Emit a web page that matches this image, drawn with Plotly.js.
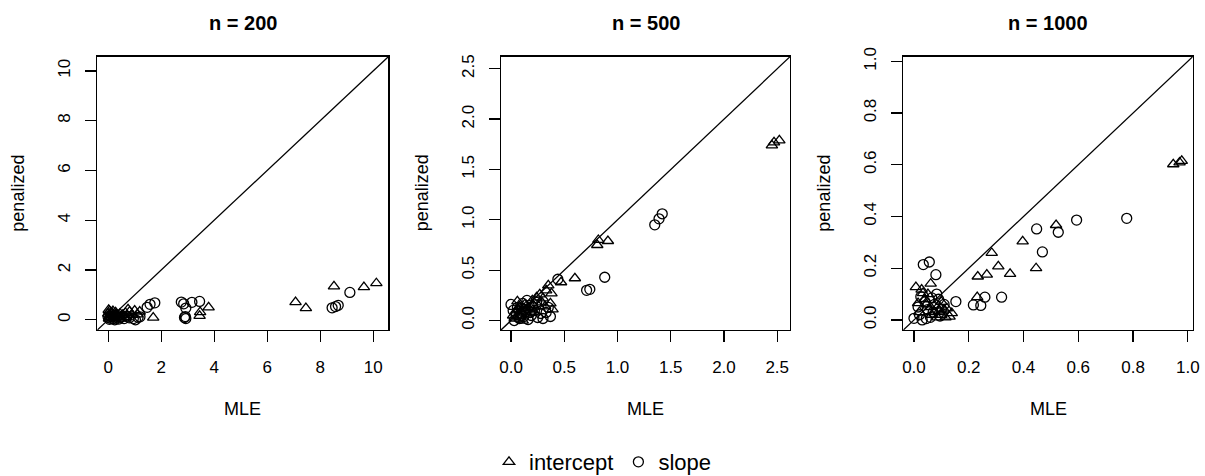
<!DOCTYPE html>
<html>
<head>
<meta charset="utf-8">
<script src="https://cdn.plot.ly/plotly-3.0.1.min.js"></script>
<style>html,body{margin:0;padding:0;background:#fff;}#chart{width:1205px;height:476px;}</style>
</head>
<body>
<div id="chart"></div>
<script>
// ---- data ----
const panelTitles = ["n = 200", "n = 500", "n = 1000"];
const seriesNames = ["intercept", "slope"];

// n = 200
const n200_intercept_mle = [10.12, 9.65, 8.52, 7.07, 7.46, 3.79, 3.47, 3.45, 1.70, 1.19, 1.00, 0.81, 0.02, 0.05, 0.10, 0.00, 0.08, 0.15, 0.20, 0.12, 0.30, 0.25, 0.05, 0.35, 0.40, 0.45, 0.55, 0.60, 0.65, 0.18, 0.03, 0.28, 0.70, 0.50, 0.90, 0.75, 1.10];
const n200_intercept_pen = [1.47, 1.31, 1.34, 0.71, 0.47, 0.50, 0.31, 0.16, 0.09, 0.33, 0.37, 0.33, 0.40, 0.35, 0.30, 0.25, 0.20, 0.28, 0.15, 0.10, 0.22, 0.05, 0.12, 0.18, 0.10, 0.25, 0.20, 0.12, 0.28, 0.35, 0.05, 0.30, 0.10, 0.05, 0.20, 0.42, 0.22];
const n200_slope_mle = [9.12, 8.45, 8.58, 8.68, 3.45, 3.16, 2.76, 2.85, 2.93, 2.91, 2.93, 2.88, 1.47, 1.58, 1.76, 1.03, 1.13, 0.95, 0.00, 0.05, 0.10, 0.20, 0.30, 0.15, 0.40, 0.50, 0.60, 0.70, 0.80, 0.25, 0.35, 0.08, 0.45, 1.20];
const n200_slope_pen = [1.10, 0.48, 0.53, 0.58, 0.74, 0.70, 0.71, 0.64, 0.47, 0.13, 0.05, 0.09, 0.50, 0.62, 0.68, 0.00, 0.10, 0.05, 0.10, 0.02, 0.15, 0.05, 0.10, 0.20, 0.03, 0.12, 0.05, 0.15, 0.08, 0.00, 0.18, 0.06, 0.08, 0.12];

// n = 500
const n500_intercept_mle = [2.52, 2.47, 2.45, 0.91, 0.82, 0.81, 0.60, 0.47, 0.35, 0.33, 0.38, 0.37, 0.39, 0.24, 0.27, 0.29, 0.21, 0.06, 0.02, 0.05, 0.08, 0.10, 0.12, 0.15, 0.18, 0.20, 0.04, 0.09, 0.13, 0.16, 0.22, 0.26, 0.30, 0.32, 0.11, 0.07];
const n500_intercept_pen = [1.79, 1.77, 1.74, 0.79, 0.80, 0.75, 0.42, 0.38, 0.35, 0.30, 0.27, 0.17, 0.11, 0.23, 0.26, 0.18, 0.15, 0.19, 0.05, 0.10, 0.14, 0.08, 0.12, 0.06, 0.10, 0.20, 0.02, 0.04, 0.16, 0.13, 0.08, 0.14, 0.22, 0.14, 0.00, 0.11];
const n500_slope_mle = [1.35, 1.39, 1.42, 0.88, 0.71, 0.74, 0.44, 0.30, 0.37, 0.15, 0.00, 0.02, 0.05, 0.08, 0.10, 0.12, 0.14, 0.17, 0.19, 0.22, 0.25, 0.28, 0.33, 0.35, 0.03, 0.06, 0.09, 0.11, 0.16, 0.20, 0.24, 0.13, 0.07, 0.18];
const n500_slope_pen = [0.95, 1.01, 1.06, 0.43, 0.30, 0.31, 0.41, 0.02, 0.04, 0.20, 0.16, 0.10, 0.06, 0.02, 0.12, 0.04, 0.09, 0.15, 0.05, 0.10, 0.03, 0.07, 0.08, 0.13, 0.00, 0.13, 0.07, 0.17, 0.01, 0.14, 0.18, 0.11, 0.03, 0.08];

// n = 1000
const n1000_intercept_mle = [0.978, 0.970, 0.947, 0.519, 0.397, 0.446, 0.284, 0.308, 0.351, 0.266, 0.233, 0.231, 0.061, 0.007, 0.028, 0.033, 0.051, 0.015, 0.040, 0.060, 0.075, 0.090, 0.100, 0.110, 0.120, 0.130, 0.115, 0.085, 0.065, 0.020, 0.045, 0.100, 0.093, 0.138];
const n1000_intercept_pen = [0.615, 0.609, 0.602, 0.367, 0.304, 0.200, 0.259, 0.207, 0.178, 0.175, 0.168, 0.088, 0.140, 0.127, 0.117, 0.104, 0.100, 0.065, 0.080, 0.050, 0.030, 0.055, 0.020, 0.040, 0.045, 0.013, 0.010, 0.010, 0.020, 0.030, 0.060, 0.070, 0.036, 0.026];
const n1000_slope_mle = [0.777, 0.594, 0.448, 0.527, 0.469, 0.320, 0.259, 0.217, 0.244, 0.153, 0.034, 0.056, 0.080, 0.000, 0.083, 0.020, 0.030, 0.045, 0.060, 0.070, 0.075, 0.090, 0.100, 0.050, 0.040, 0.065, 0.110, 0.015, 0.025, 0.095];
const n1000_slope_pen = [0.393, 0.386, 0.352, 0.339, 0.263, 0.088, 0.088, 0.058, 0.056, 0.071, 0.214, 0.224, 0.175, 0.006, 0.100, 0.020, 0.000, 0.005, 0.010, 0.030, 0.060, 0.080, 0.040, 0.040, 0.070, 0.085, 0.060, 0.050, 0.090, 0.015];

// axis ticks
const ticks200 = [0, 2, 4, 6, 8, 10];
const ticks500 = [0.0, 0.5, 1.0, 1.5, 2.0, 2.5];
const ticks1000 = [0.0, 0.2, 0.4, 0.6, 0.8, 1.0];

// ---- layout configuration ----
const ranges = [[-0.41, 10.57], [-0.094, 2.62], [-0.039, 1.018]];
const W = 1205, H = 476;
const boxes = [[97.3, 388.3], [501, 790], [903.3, 1192.7]];
const boxTop = 56.7, boxBottom = 330;
const FONT = "Liberation Sans, Arial, Helvetica, sans-serif";

const panels = [
  {ix: n200_intercept_mle, iy: n200_intercept_pen, sx: n200_slope_mle, sy: n200_slope_pen, ticks: ticks200, fmt: v => String(v)},
  {ix: n500_intercept_mle, iy: n500_intercept_pen, sx: n500_slope_mle, sy: n500_slope_pen, ticks: ticks500, fmt: v => v.toFixed(1)},
  {ix: n1000_intercept_mle, iy: n1000_intercept_pen, sx: n1000_slope_mle, sy: n1000_slope_pen, ticks: ticks1000, fmt: v => v.toFixed(1)}
];

const traces = [];
const layout = {
  width: W, height: H,
  margin: {l: 0, r: 0, t: 0, b: 0, autoexpand: false},
  paper_bgcolor: "#fff", plot_bgcolor: "#fff",
  font: {family: FONT, color: "#000", size: 17},
  showlegend: true,
  legend: {orientation: "h", x: 0.5, xanchor: "center", y: 1 - 462 / H, yanchor: "middle",
           font: {size: 22, family: FONT, color: "#000"}, itemwidth: 30, tracegroupgap: 0, traceorder: "normal"},
  annotations: [],
};

const markerLine = {color: "#000", width: 1.3};
panels.forEach((p, i) => {
  const k = i === 0 ? "" : String(i + 1);
  const xa = "x" + k, ya = "y" + k;
  const r = ranges[i];
  traces.push({type: "scatter", mode: "lines", x: [r[0], r[1]], y: [r[0], r[1]], xaxis: xa, yaxis: ya,
               line: {color: "#000", width: 1.3}, showlegend: false, hoverinfo: "skip"});
  traces.push({type: "scatter", mode: "markers", x: p.ix, y: p.iy, xaxis: xa, yaxis: ya,
               name: seriesNames[0], legendgroup: "int", showlegend: i === 0,
               marker: {symbol: "triangle-up-open", size: 10, color: "#000", line: markerLine}, cliponaxis: false});
  traces.push({type: "scatter", mode: "markers", x: p.sx, y: p.sy, xaxis: xa, yaxis: ya,
               name: seriesNames[1], legendgroup: "slp", showlegend: i === 0,
               marker: {symbol: "circle-open", size: 10, color: "#000", line: markerLine}, cliponaxis: false});

  const axCommon = {
    showgrid: false, zeroline: false, showline: true, mirror: true, linecolor: "#000", linewidth: 1.3,
    ticks: "outside", ticklen: 11, tickwidth: 1.3, tickcolor: "#000",
    tickmode: "array", tickvals: p.ticks, ticktext: p.ticks.map(p.fmt),
    tickfont: {size: 17, family: FONT, color: "#000"}, range: r, fixedrange: true, automargin: false
  };
  layout["xaxis" + k] = Object.assign({}, axCommon, {domain: [boxes[i][0] / W, boxes[i][1] / W], anchor: ya, ticklabelstandoff: 10});
  layout["yaxis" + k] = Object.assign({}, axCommon, {domain: [1 - boxBottom / H, 1 - boxTop / H], anchor: xa, tickangle: -90, ticklabelstandoff: 8});

  const cx = (boxes[i][0] + boxes[i][1]) / 2 / W;
  layout.annotations.push({text: "<b>" + panelTitles[i] + "</b>", xref: "paper", yref: "paper", x: cx, y: 1 - 23 / H,
                           xanchor: "center", yanchor: "middle", showarrow: false, font: {size: 20, family: FONT, color: "#000"}});
  layout.annotations.push({text: "MLE", xref: "paper", yref: "paper", x: cx, y: 1 - 409 / H,
                           xanchor: "center", yanchor: "middle", showarrow: false, font: {size: 18, family: FONT, color: "#000"}});
  layout.annotations.push({text: "penalized", xref: "paper", yref: "paper", x: (boxes[i][0] - 79) / W, y: 1 - (boxTop + boxBottom) / 2 / H,
                           xanchor: "center", yanchor: "middle", textangle: -90, showarrow: false, font: {size: 18, family: FONT, color: "#000"}});
});

Plotly.newPlot("chart", traces, layout, {staticPlot: true, displayModeBar: false});
</script>
</body>
</html>
